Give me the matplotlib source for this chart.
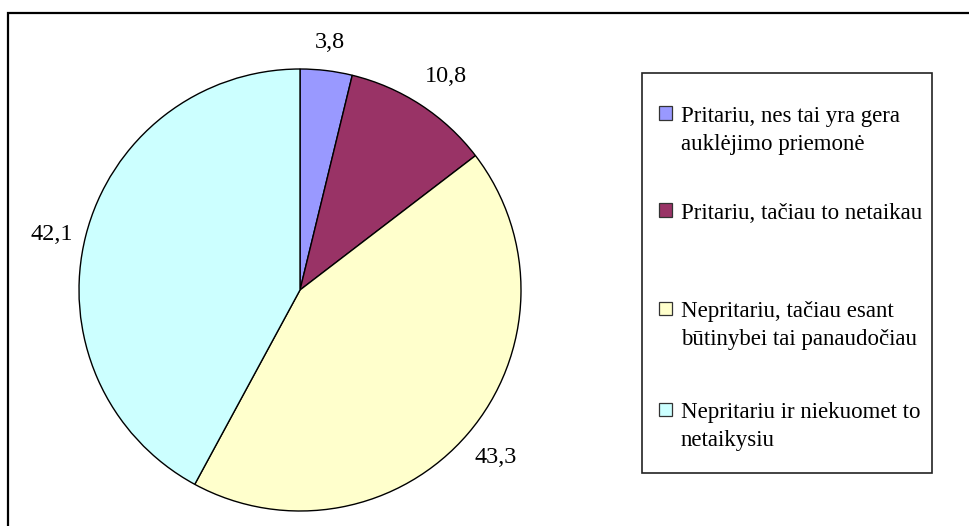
import matplotlib.pyplot as plt
from matplotlib.patches import Rectangle

# data
categories = [
    "Pritariu, nes tai yra gera\nauklėjimo priemonė",
    "Pritariu, tačiau to netaikau",
    "Nepritariu, tačiau esant\nbūtinybei tai panaudočiau",
    "Nepritariu ir niekuomet to\nnetaikysiu",
]
values = [3.8, 10.8, 43.3, 42.1]
colors = ["#9999FF", "#993366", "#FFFFCC", "#CCFFFF"]

W, H = 969, 526
plt.rcParams["font.family"] = ["Liberation Serif", "DejaVu Serif"]
FS_LABEL = 17.5
FS_LEGEND = 16.5


def fx(px):
    return px / W


def fy(py):
    return 1 - py / H


fig = plt.figure(figsize=(W / 100, H / 100), dpi=100)

# outer frame (runs off the right and bottom edges like the screenshot)
fig.patches.append(Rectangle((fx(8), -0.2), 1.2, fy(13) + 0.2,
                             transform=fig.transFigure, fill=False,
                             edgecolor="black", linewidth=1.6, clip_on=False))

# pie axes: centre (300, 290), radius 221 px
cx, cy, r = 300, 290, 221
ax = fig.add_axes([fx(cx - r), fy(cy + r), 2 * r / W, 2 * r / H])
wedges, texts, autotexts = ax.pie(
    values,
    colors=colors,
    startangle=90,
    counterclock=False,
    autopct=lambda p: f"{p:.1f}".replace(".", ","),
    pctdistance=1.15,
    wedgeprops=dict(edgecolor="black", linewidth=1.0),
    textprops=dict(fontsize=FS_LABEL, color="black"),
)
# Excel-style label placement, tucked just outside each slice
label_pos = [(0.136, 1.118), (0.661, 0.964), (0.887, -0.760), (-1.122, 0.249)]
for t, pos in zip(autotexts, label_pos):
    t.set_position(pos)
ax.set_xlim(-1, 1)
ax.set_ylim(-1, 1)
ax.set_aspect("equal")
ax.axis("off")

# legend box
lx0, lx1, ly0, ly1 = 642, 932, 73, 473
fig.patches.append(Rectangle((fx(lx0), fy(ly1)), fx(lx1 - lx0), (ly1 - ly0) / H,
                             transform=fig.transFigure, fill=False,
                             edgecolor="#222222", linewidth=1.2))

baselines = [122, 219, 317, 418]
line_gap = 28
sq = 13
for label, col, base in zip(categories, colors, baselines):
    sq_cy = base - 9
    fig.patches.append(Rectangle((fx(659), fy(sq_cy + sq / 2)), sq / W, sq / H,
                                 transform=fig.transFigure, facecolor=col,
                                 edgecolor="#333333", linewidth=0.9))
    for i, line in enumerate(label.split("\n")):
        fig.text(fx(681), fy(base + i * line_gap), line, fontsize=FS_LEGEND,
                 ha="left", va="baseline")

fig.savefig("out.png", dpi=100)
